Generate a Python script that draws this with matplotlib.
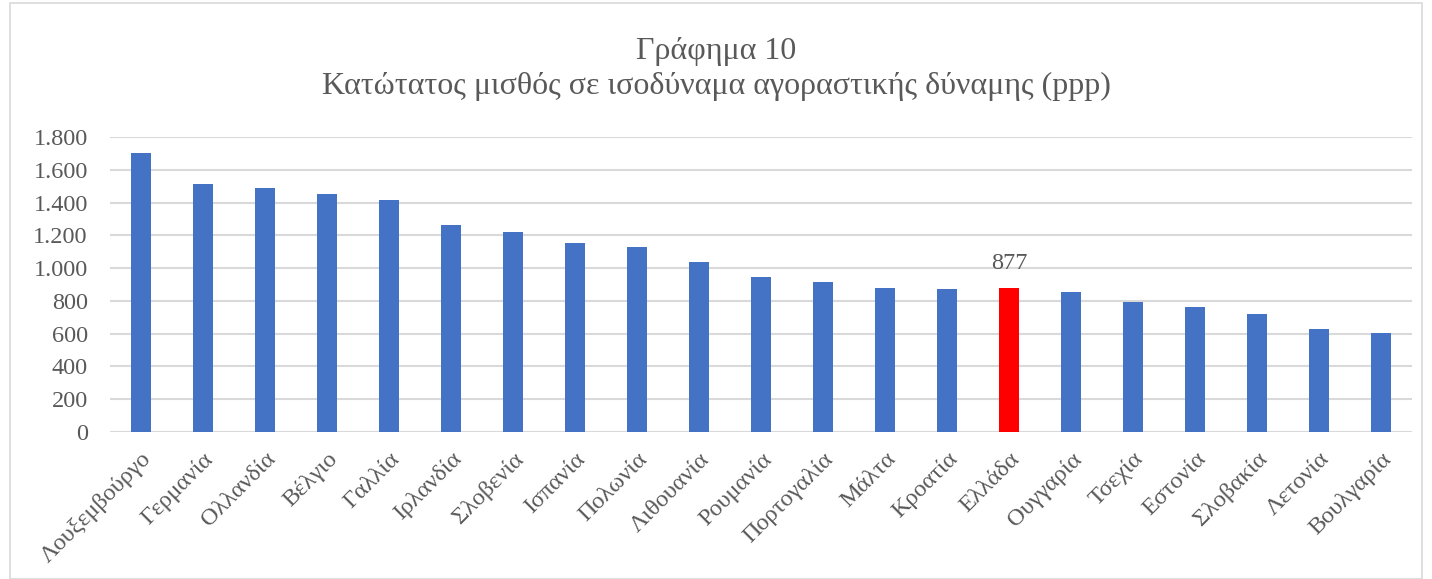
import matplotlib
matplotlib.use("Agg")
import matplotlib.pyplot as plt
from matplotlib.patches import Rectangle
from matplotlib.ticker import FuncFormatter

countries = ["Λουξεμβούργο", "Γερμανία", "Ολλανδία", "Βέλγιο", "Γαλλία", "Ιρλανδία",
             "Σλοβενία", "Ισπανία", "Πολωνία", "Λιθουανία", "Ρουμανία", "Πορτογαλία",
             "Μάλτα", "Κροατία", "Ελλάδα", "Ουγγαρία", "Τσεχία", "Εστονία",
             "Σλοβακία", "Λετονία", "Βουλγαρία"]
values = [1704, 1515, 1489, 1454, 1414, 1265, 1222, 1151, 1131, 1035, 946, 917,
          881, 875, 877, 856, 793, 765, 718, 631, 602]
highlight = "Ελλάδα"
yticks = [0, 200, 400, 600, 800, 1000, 1200, 1400, 1600, 1800]
title = "Γράφημα 10\nΚατώτατος μισθός σε ισοδύναμα αγοραστικής δύναμης (ppp)"

plt.rcParams['font.family'] = ['Liberation Serif', 'DejaVu Serif']
txt = "#595959"

fig = plt.figure(figsize=(14.32, 5.79), dpi=100)
fig.patches.append(Rectangle((10/1432, 0), 1 - 20/1432, 1 - 3/579, transform=fig.transFigure,
                             fill=False, edgecolor="#d9d9d9", linewidth=1.2))
ax = fig.add_axes([110/1432, 1 - 432/579, 1302/1432, 295/579])

colors = ["#FF0000" if c == highlight else "#4472C4" for c in countries]
x = list(range(len(countries)))
ax.bar(x, values, width=0.31, color=colors, zorder=3)

ax.set_xlim(-0.5, len(countries) - 0.5)
ax.set_ylim(0, 1800)
ax.set_yticks(yticks)
ax.yaxis.set_major_formatter(FuncFormatter(lambda v, p: f"{int(v):,}".replace(",", ".")))
ax.grid(axis="y", color="#d9d9d9", linewidth=1.5, zorder=0)
for s in ax.spines.values():
    s.set_visible(False)
ax.tick_params(axis="both", length=0, labelsize=17.5, labelcolor=txt)
ax.tick_params(axis="y", pad=16)
ax.set_xticks(x)
ax.set_xticklabels(countries, rotation=45, ha="right", rotation_mode="anchor")
ax.tick_params(axis="x", pad=12)
for lbl in ax.get_xticklabels():
    lbl.set_x(lbl.get_position()[0])

gi = countries.index(highlight)
ax.annotate(f"{values[gi]}", (gi, values[gi]), xytext=(0, 10), textcoords="offset points",
            ha="center", va="bottom", fontsize=17.5, color=txt)

fig.text(0.5, 1 - 69/579, title, ha="center", va="center", fontsize=23, color=txt,
         linespacing=1.3)

fig.savefig("out.png", dpi=100)
